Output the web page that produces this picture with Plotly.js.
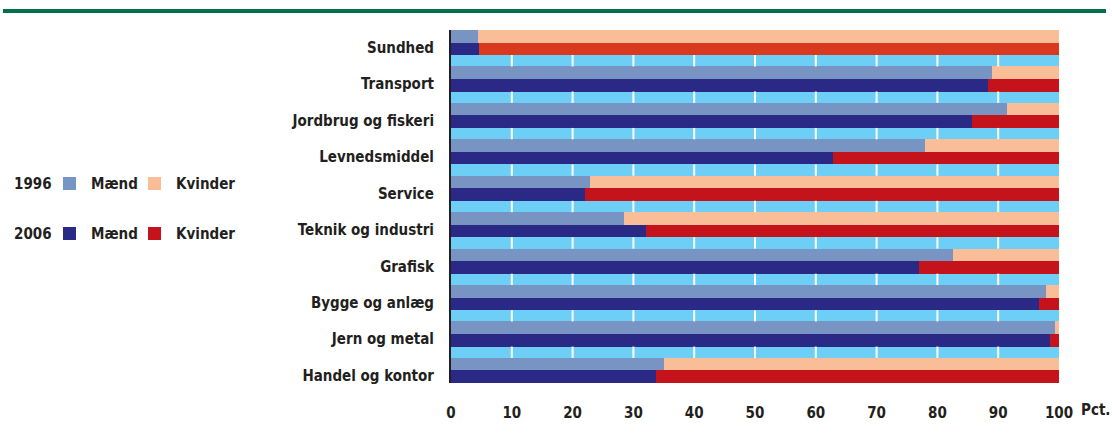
<!DOCTYPE html>
<html><head><meta charset="utf-8">
<script src="https://cdn.plot.ly/plotly-3.0.1.min.js"></script>
<style>html,body{margin:0;padding:0;background:#fff;} #chart{width:1112px;height:434px;}</style>
</head><body><div id="chart"></div>
<script>
// ---- data ----
const categories = ["Sundhed","Transport","Jordbrug og fiskeri","Levnedsmiddel","Service","Teknik og industri","Grafisk","Bygge og anlæg","Jern og metal","Handel og kontor"];
const maend1996   = [4.5, 89.0, 91.5, 77.9, 22.9, 28.5, 82.5, 97.8, 99.4, 35.0];
const kvinder1996 = [95.5, 11.0, 8.5, 22.1, 77.1, 71.5, 17.5, 2.2, 0.6, 65.0];
const maend2006   = [4.6, 88.3, 85.7, 62.8, 22.0, 32.1, 76.9, 96.7, 98.5, 33.7];
const kvinder2006 = [95.4, 11.7, 14.3, 37.2, 78.0, 67.9, 23.1, 3.3, 1.5, 66.3];
const xTicks = [0,10,20,30,40,50,60,70,80,90,100];
const xTickText = ["0","10","20","30","40","50","60","70","80","90","100"];
const legendYears = ["1996","2006"];
const legendSexes = ["Mænd","Kvinder"];
const unitLabel = "Pct.";

// ---- styles ----
const C = {m96:"#7794c3", k96:"#f9bd98", m06:"#2a2a86", k06:"#c4131b", k06b:"#d9391f", band:"#6dcff6", text:"#231f20", green:"#00704a"};
const FONT = "Liberation Sans Narrow, Arial Narrow, DejaVu Sans Condensed, sans-serif";
const BW = 0.344, BANDW = 0.312;

const n = categories.length;
const y96 = categories.map((c,i)=> i - BW/2);
const y06 = categories.map((c,i)=> i + BW/2);
const bandY = categories.slice(0, n-1).map((c,i)=> i + 0.5);
const bandX = bandY.map(()=> 100);

const k06colors = categories.map((c,i)=> i===0 ? C.k06b : C.k06);

const common = {type:'bar', orientation:'h', hoverinfo:'skip', showlegend:false};
const traces = [
  Object.assign({}, common, {x:maend1996, y:y96, width:BW, marker:{color:C.m96}}),
  Object.assign({}, common, {x:kvinder1996, y:y96, width:BW, marker:{color:C.k96}}),
  Object.assign({}, common, {x:maend2006, y:y06, width:BW, marker:{color:C.m06}}),
  Object.assign({}, common, {x:kvinder2006, y:y06, width:BW, marker:{color:k06colors}}),
  Object.assign({}, common, {x:bandX, y:bandY, width:BANDW, marker:{color:C.band}})
];

// pixel -> paper helpers (plot area 451..1059 x, 30..383 y)
const L=451, R=1059, T=30, B=383;
const X = px => (px - L)/(R - L);
const Y = py => 1 - (py - T)/(B - T);

const shapes = [];
// white grid lines inside the cyan bands
bandY.forEach(by => {
  xTicks.slice(1, xTicks.length-1).forEach(t => {
    shapes.push({type:'line', xref:'x', yref:'y', x0:t, x1:t, y0:by-BANDW/2, y1:by+BANDW/2, line:{color:'#ffffff', width:2}, layer:'above'});
  });
});
// green top rule
shapes.push({type:'line', xref:'paper', yref:'paper', x0:X(3), x1:X(1106), y0:Y(11), y1:Y(11), line:{color:C.green, width:4}});

const annotations = [];
const legendColors = [[C.m96, C.k96],[C.m06, C.k06]];
const rowY = [184, 234];
legendYears.forEach((yr, r) => {
  annotations.push({xref:'paper', yref:'paper', x:X(12), y:Y(rowY[r]), xanchor:'left', yanchor:'middle', text:yr, showarrow:false, font:{family:FONT, size:15, color:C.text, weight:700}});
  const sqX = [63, 148], txX = [89, 174];
  legendSexes.forEach((s, j) => {
    shapes.push({type:'rect', xref:'paper', yref:'paper', x0:X(sqX[j]), x1:X(sqX[j]+13), y0:Y(rowY[r]-7), y1:Y(rowY[r]+6), fillcolor:legendColors[r][j], line:{width:0}});
    annotations.push({xref:'paper', yref:'paper', x:X(txX[j]), y:Y(rowY[r]), xanchor:'left', yanchor:'middle', text:s, showarrow:false, font:{family:FONT, size:15, color:C.text, weight:700}});
  });
});
annotations.push({xref:'paper', yref:'paper', x:X(1079), y:Y(410), xanchor:'left', yanchor:'middle', text:unitLabel, showarrow:false, font:{family:FONT, size:15, color:C.text, weight:700}});

const layout = {
  width:1112, height:434,
  margin:{l:L, r:1112-R, t:T, b:434-B, pad:0},
  paper_bgcolor:'#ffffff', plot_bgcolor:'#ffffff',
  barmode:'stack', bargap:0,
  showlegend:false,
  font:{family:FONT, color:C.text},
  xaxis:{range:[0,100], tickvals:xTicks, ticktext:xTickText, ticks:'outside', ticklen:16, tickcolor:'rgba(0,0,0,0)',
         showgrid:false, zeroline:false, showline:false, fixedrange:true,
         tickfont:{family:FONT, size:15, color:C.text, weight:700}},
  yaxis:{range:[n-1+BW, -BW], tickvals:categories.map((c,i)=> i + 0.14), ticktext:categories, ticks:'outside', ticklen:12, tickcolor:'rgba(0,0,0,0)',
         showgrid:false, zeroline:false, showline:true, linecolor:'#231f20', linewidth:2, fixedrange:true,
         tickfont:{family:FONT, size:15, color:C.text, weight:700}},
  shapes:shapes,
  annotations:annotations
};

Plotly.newPlot('chart', traces, layout, {displayModeBar:false, staticPlot:true});
</script>
</body></html>
